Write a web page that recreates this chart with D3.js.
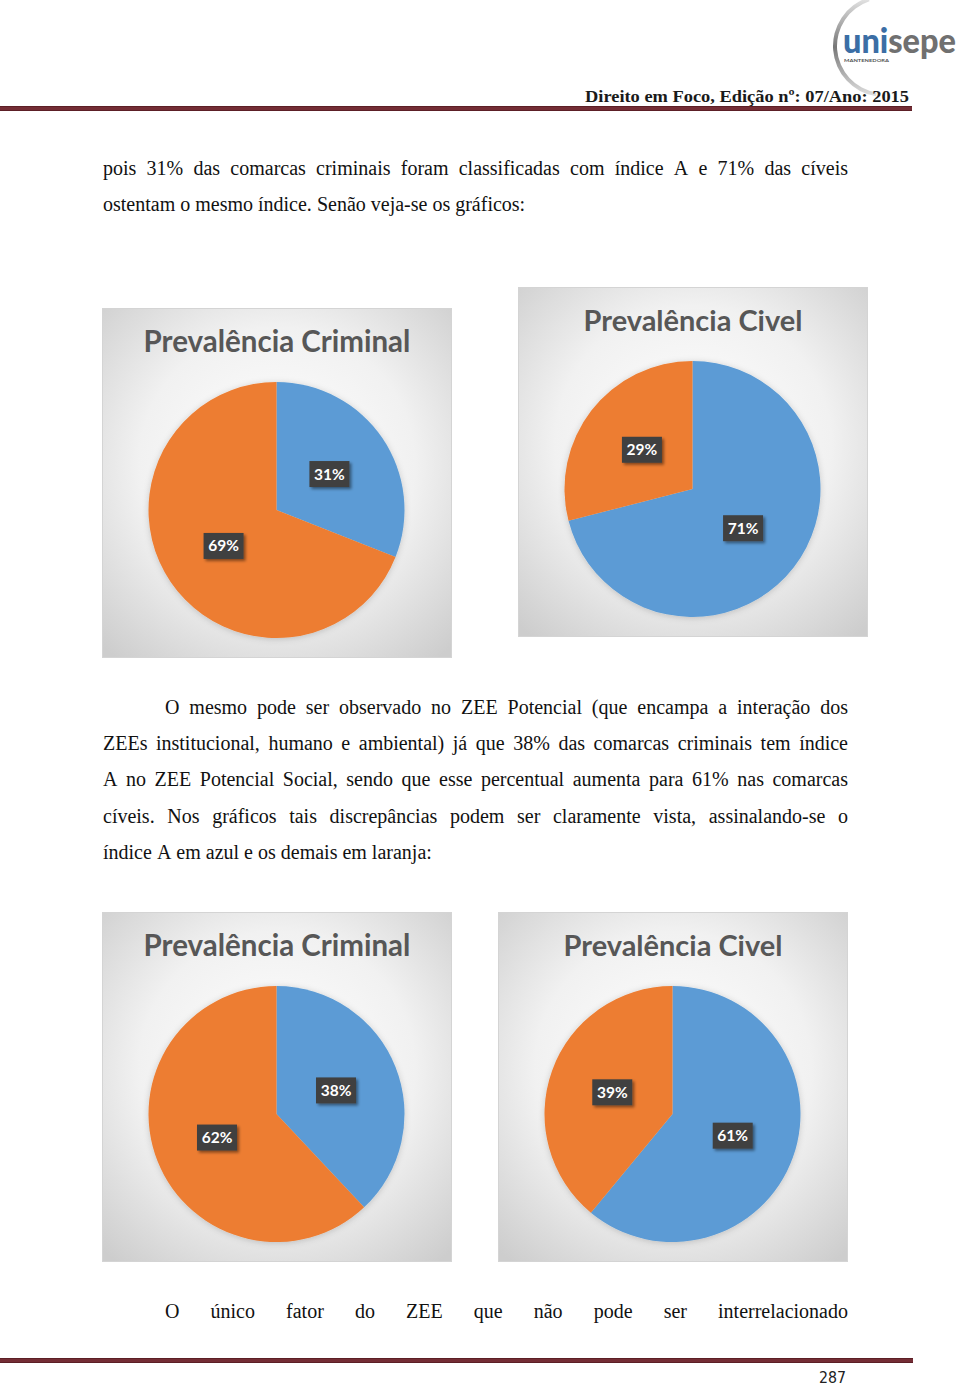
<!DOCTYPE html>
<html>
<head>
<meta charset="utf-8">
<script src="https://cdn.jsdelivr.net/npm/d3@7"></script>
<style>
html,body{margin:0;padding:0;background:#fff;}
svg{display:block;}
</style>
</head>
<body>
<script>
// ---------- DATA ----------
const categories = ["Índice A", "Demais índices"];
const chartTitles = ["Prevalência Criminal", "Prevalência Civel", "Prevalência Criminal", "Prevalência Civel"];
const criminalGeral = [31, 69];
const civelGeral = [71, 29];
const criminalPotencial = [38, 62];
const civelPotencial = [61, 39];
const chartValues = [criminalGeral, civelGeral, criminalPotencial, civelPotencial];

const headerText = "Direito em Foco, Edição nº: 07/Ano: 2015";
const pageNumber = "287";
const para1 = ["pois 31% das comarcas criminais foram classificadas com índice A e 71% das cíveis",
               "ostentam o mesmo índice. Senão veja-se os gráficos:"];
const para2 = ["O mesmo pode ser observado no ZEE Potencial (que encampa a interação dos",
               "ZEEs institucional, humano e ambiental) já que 38% das comarcas criminais tem índice",
               "A no ZEE Potencial Social, sendo que esse percentual aumenta para 61% nas comarcas",
               "cíveis. Nos gráficos tais discrepâncias podem ser claramente vista, assinalando-se o",
               "índice A em azul e os demais em laranja:"];
const para3 = ["O único fator do ZEE que não pode ser interrelacionado"];

// ---------- SETUP ----------
const W = 960, H = 1386;
const svg = d3.select("body").append("svg").attr("width", W).attr("height", H);
const defs = svg.append("defs");

const bg = defs.append("radialGradient").attr("id", "boxbg")
  .attr("cx", "50%").attr("cy", "45%").attr("r", "72%");
bg.append("stop").attr("offset", "0%").attr("stop-color", "#ffffff");
bg.append("stop").attr("offset", "55%").attr("stop-color", "#f1f1f1");
bg.append("stop").attr("offset", "100%").attr("stop-color", "#cdcdcd");

const sh = defs.append("filter").attr("id", "lblshadow").attr("x", "-30%").attr("y", "-30%").attr("width", "170%").attr("height", "170%");
sh.append("feDropShadow").attr("dx", 2).attr("dy", 2).attr("stdDeviation", 1.6).attr("flood-color", "#000").attr("flood-opacity", 0.45);

const pieSh = defs.append("filter").attr("id", "pieshadow").attr("x", "-20%").attr("y", "-20%").attr("width", "140%").attr("height", "140%");
pieSh.append("feDropShadow").attr("dx", 0).attr("dy", 1).attr("stdDeviation", 3).attr("flood-color", "#000").attr("flood-opacity", 0.18);

const arcGrad = defs.append("linearGradient").attr("id", "arcgrad").attr("x1", "0").attr("y1", "0").attr("x2", "0").attr("y2", "1");
arcGrad.append("stop").attr("offset", "0%").attr("stop-color", "#e6e6e6");
arcGrad.append("stop").attr("offset", "50%").attr("stop-color", "#777");
arcGrad.append("stop").attr("offset", "100%").attr("stop-color", "#e0e0e0");

// ---------- HEADER ----------
const logo = svg.append("g");
const logoArc = d3.arc().innerRadius(47).outerRadius(51)
  .startAngle(-Math.PI * 0.95).endAngle(-Math.PI * 0.1);
logo.append("path").attr("d", logoArc()).attr("transform", "translate(884,46)")
  .attr("fill", "url(#arcgrad)");
const logoArc2 = d3.arc().innerRadius(48).outerRadius(50)
  .startAngle(-Math.PI * 0.1).endAngle(Math.PI * 0.05);
logo.append("path").attr("d", logoArc2()).attr("transform", "translate(884,46)")
  .attr("fill", "#ececec");
const logoText = logo.append("text").attr("x", 843).attr("y", 53)
  .attr("font-family", "Lato, 'Open Sans', sans-serif").attr("font-weight", 900)
  .attr("font-size", 34).attr("textLength", 113).attr("lengthAdjust", "spacingAndGlyphs");
logoText.append("tspan").attr("fill", "#3b6ea5").text("uni");
logoText.append("tspan").attr("fill", "#707070").text("sepe");
logo.append("text").attr("x", 844).attr("y", 62).attr("font-size", 4.5)
  .attr("font-family", "Lato, sans-serif").attr("font-weight", 700).attr("fill", "#555")
  .attr("textLength", 45).attr("lengthAdjust", "spacingAndGlyphs").text("MANTENEDORA");

svg.append("text").attr("x", 909).attr("y", 102).attr("text-anchor", "end")
  .attr("font-family", "'Liberation Serif', 'DejaVu Serif', serif").attr("font-weight", "bold")
  .attr("font-size", 17).attr("fill", "#1a1a1a")
  .attr("textLength", 324).attr("lengthAdjust", "spacingAndGlyphs").text(headerText);

svg.append("rect").attr("x", 0).attr("y", 106).attr("width", 912).attr("height", 5).attr("fill", "#5c1f26");
svg.append("rect").attr("x", 0).attr("y", 107).attr("width", 912).attr("height", 3).attr("fill", "#742d35");

// ---------- FOOTER ----------
svg.append("rect").attr("x", 0).attr("y", 1358).attr("width", 913).attr("height", 5).attr("fill", "#5c1f26");
svg.append("rect").attr("x", 0).attr("y", 1359).attr("width", 913).attr("height", 3).attr("fill", "#742d35");
svg.append("text").attr("x", 819).attr("y", 1383)
  .attr("font-family", "'Liberation Sans Narrow', 'DejaVu Sans Condensed', sans-serif")
  .attr("font-size", 15).attr("fill", "#222")
  .attr("textLength", 27).attr("lengthAdjust", "spacingAndGlyphs").text(pageNumber);

// ---------- BODY TEXT ----------
const bodyFont = "'Liberation Serif', 'Times New Roman', serif";
function textLine(str, x, y, right, justify) {
  const g = svg.append("g");
  const words = str.split(" ");
  const nodes = words.map(w => g.append("text").attr("y", y)
    .attr("font-family", bodyFont).attr("font-size", 20).attr("fill", "#111").text(w));
  const widths = nodes.map(n => n.node().getComputedTextLength());
  const total = d3.sum(widths);
  const space = justify && words.length > 1 ? (right - x - total) / (words.length - 1) : 5;
  let cx = x;
  nodes.forEach((n, i) => { n.attr("x", cx); cx += widths[i] + space; });
}
const LEFT = 103, RIGHT = 848, INDENT = 165, LH = 36.2;
para1.forEach((l, i) => textLine(l, LEFT, 175 + i * LH, RIGHT, i < para1.length - 1));
para2.forEach((l, i) => textLine(l, i === 0 ? INDENT : LEFT, 714 + i * LH, RIGHT, i < para2.length - 1));
para3.forEach((l, i) => textLine(l, INDENT, 1318, RIGHT, true));

// ---------- CHARTS ----------
const boxes = [{x: 102, y: 308}, {x: 518, y: 287}, {x: 102, y: 912}, {x: 498, y: 912}];
const BOX = 349, R = 128;
const titleWidths = {"Prevalência Criminal": 267, "Prevalência Civel": 219};
const color = d3.scaleOrdinal().domain(categories).range(["#5b9bd5", "#ed7d31"]);
const pie = d3.pie().sort(null).value(d => d.v);
const arc = d3.arc().innerRadius(0).outerRadius(R);

chartValues.forEach((vals, ci) => {
  const b = boxes[ci];
  const g = svg.append("g").attr("transform", `translate(${b.x},${b.y})`);
  g.append("rect").attr("x", 0.5).attr("y", 0.5).attr("width", BOX).attr("height", BOX)
    .attr("fill", "url(#boxbg)").attr("stroke", "#d4d4d4").attr("stroke-width", 1);

  const t = g.append("text").attr("x", BOX / 2 + 0.5).attr("y", 44).attr("text-anchor", "middle")
    .attr("font-family", "Lato, 'Open Sans', sans-serif").attr("font-weight", 700)
    .attr("font-size", 28).attr("fill", "#575757").text(chartTitles[ci]);
  const tw = t.node().getComputedTextLength();
  const target = titleWidths[chartTitles[ci]];
  t.attr("font-size", 28 * target / tw);

  const data = categories.map((c, i) => ({c, v: vals[i]}));
  const pg = g.append("g").attr("transform", `translate(${BOX / 2},202)`);
  const arcs = pie(data);
  pg.append("g").attr("filter", "url(#pieshadow)").selectAll("path").data(arcs).join("path")
    .attr("d", arc).attr("fill", d => color(d.data.c));

  const lg = pg.selectAll("g.lbl").data(arcs).join("g").attr("class", "lbl")
    .attr("transform", d => `translate(${arc.centroid(d)})`);
  lg.append("rect").attr("x", -20).attr("y", -13).attr("width", 40).attr("height", 26)
    .attr("fill", "#404040").attr("filter", "url(#lblshadow)");
  lg.append("text").attr("text-anchor", "middle").attr("y", 5.5)
    .attr("font-family", "Lato, 'Open Sans', sans-serif").attr("font-weight", 700)
    .attr("font-size", 15.5).attr("fill", "#fff").text(d => d.data.v + "%");
});
</script>
</body>
</html>
